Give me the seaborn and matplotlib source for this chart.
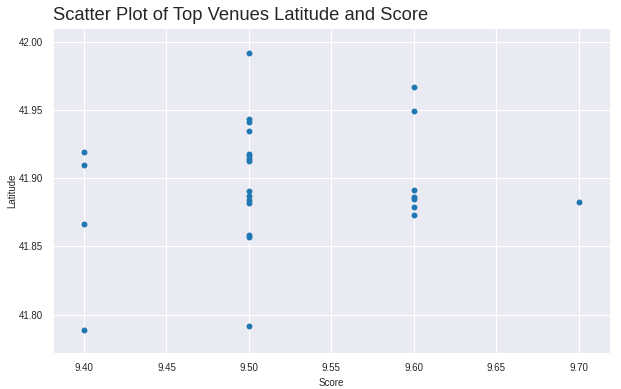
import matplotlib
matplotlib.use("Agg")
import matplotlib.pyplot as plt
import seaborn as sns
import pandas as pd

# Score and latitude of the top venues
score = [9.4, 9.4, 9.4, 9.4,
         9.5, 9.5, 9.5, 9.5, 9.5, 9.5, 9.5, 9.5, 9.5, 9.5, 9.5, 9.5, 9.5, 9.5, 9.5,
         9.6, 9.6, 9.6, 9.6, 9.6, 9.6, 9.6,
         9.7]
latitude = [41.9188, 41.9093, 41.8662, 41.7888,
            41.9918, 41.9430, 41.9412, 41.9348, 41.9178, 41.9160, 41.9142, 41.9126,
            41.8905, 41.8866, 41.8838, 41.8818, 41.8580, 41.8570, 41.7920,
            41.9667, 41.9494, 41.8910, 41.8862, 41.8850, 41.8790, 41.8728,
            41.8825]

xticks = [9.40, 9.45, 9.50, 9.55, 9.60, 9.65, 9.70]
yticks = [41.80, 41.85, 41.90, 41.95, 42.00]

df = pd.DataFrame({"Score": score, "Latitude": latitude})

sns.set_style("darkgrid")
plt.rcParams["font.family"] = ["Liberation Sans", "DejaVu Sans"]

fig, ax = plt.subplots(figsize=(6.21, 3.89), dpi=100)
sns.scatterplot(data=df, x="Score", y="Latitude", ax=ax, color="#1f77b4",
                s=18, linewidth=0)

ax.set_title("Scatter Plot of Top Venues Latitude and Score", loc="left",
             fontsize=13.2)
ax.set_xlabel("Score", fontsize=7)
ax.set_ylabel("Latitude", fontsize=7, labelpad=1)
ax.tick_params(labelsize=7)
ax.set_xticks(xticks)
ax.set_xticklabels([f"{t:.2f}" for t in xticks])
ax.set_yticks(yticks)
ax.set_yticklabels([f"{t:.2f}" for t in yticks])
ax.set_xlim(9.381, 9.719)
ax.set_ylim(41.772, 42.010)

fig.subplots_adjust(left=0.085, right=0.982, top=0.928, bottom=0.093)
fig.savefig("out.png")
